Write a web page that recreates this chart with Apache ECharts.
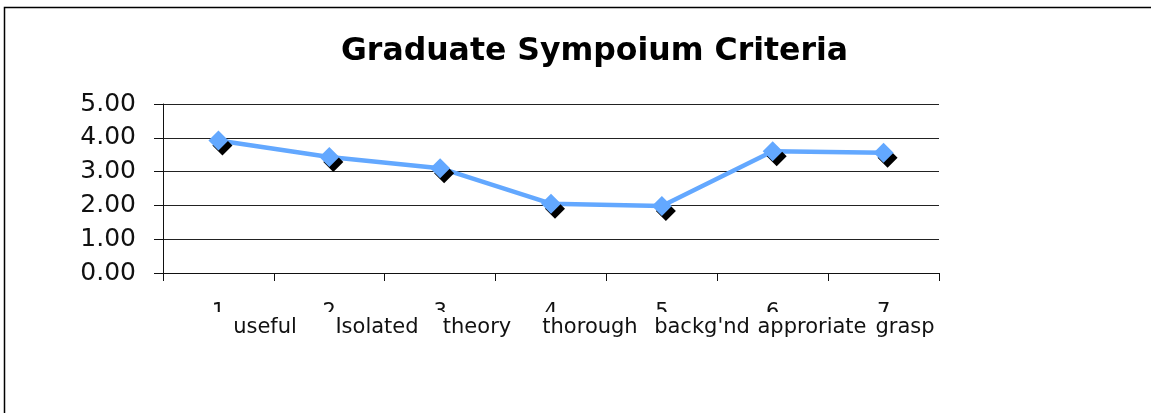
<!DOCTYPE html>
<html>
<head>
<meta charset="utf-8">
<script src="https://cdn.jsdelivr.net/npm/echarts@6/dist/echarts.min.js"></script>
<style>
html,body{margin:0;padding:0;background:#fff;}
#c{width:1151px;height:413px;}
</style>
</head>
<body>
<div id="c"></div>
<script>
const titleText = 'Graduate Sympoium Criteria';
const categories = ['1', '2', '3', '4', '5', '6', '7'];
const subLabels = ['useful', 'Isolated', 'theory', 'thorough', "backg'nd", 'approriate', 'grasp'];
const values = [3.92, 3.43, 3.10, 2.05, 1.98, 3.60, 3.56];
const yTicks = [0, 1, 2, 3, 4, 5];

// layout (pixel centres of the second label row)
const subLabelX = [265, 377, 477, 590, 702, 812, 905];

const FONT = 'DejaVu Sans, Verdana, sans-serif';
const chart = echarts.init(document.getElementById('c'), null, {renderer: 'canvas'});

const graphics = [
  {type: 'polyline', z: 200, silent: true,
   shape: {points: [[4.5, 413], [4.5, 7.5], [1151, 7.5]]},
   style: {stroke: '#000', lineWidth: 1.5, fill: null}},
  {type: 'rect', z: 100, silent: true,
   shape: {x: 160, y: 312, width: 790, height: 10},
   style: {fill: '#fff'}}
];
subLabels.forEach((w, i) => {
  graphics.push({type: 'text', z: 150, silent: true, x: subLabelX[i], y: 338,
    style: {text: w, fill: '#111', font: '21px ' + FONT, textAlign: 'center', textVerticalAlign: 'bottom'}});
});

chart.setOption({
  animation: false,
  backgroundColor: '#fff',
  title: {
    text: titleText, left: 336, top: 31,
    textStyle: {fontFamily: FONT, fontSize: 31.5, fontWeight: 'bold', color: '#000'}
  },
  grid: {left: 163, right: 212, top: 104, bottom: 140, containLabel: false},
  xAxis: {
    type: 'category', data: categories, boundaryGap: true,
    axisLine: {show: true, lineStyle: {color: '#111', width: 1}},
    axisTick: {show: true, alignWithLabel: false, length: 8, lineStyle: {color: '#111'}},
    axisLabel: {color: '#111', fontFamily: FONT, fontSize: 21, margin: 29},
    splitLine: {show: false}
  },
  yAxis: {
    type: 'value', min: 0, max: 5, interval: 1,
    axisLine: {show: true, lineStyle: {color: '#111', width: 1}},
    axisTick: {show: true, inside: false, length: 9, lineStyle: {color: '#111'}},
    axisLabel: {color: '#111', fontFamily: FONT, fontSize: 25, margin: 27,
      formatter: v => v.toFixed(2)},
    splitLine: {show: true, lineStyle: {color: '#222', width: 1}}
  },
  series: [{
    type: 'line', data: values,
    symbol: 'diamond', symbolSize: 20,
    lineStyle: {color: '#63a8ff', width: 4.5},
    itemStyle: {color: '#63a8ff', shadowColor: '#000', shadowOffsetX: 4, shadowOffsetY: 5, shadowBlur: 0},
    z: 3
  }],
  graphic: graphics
});
</script>
</body>
</html>
